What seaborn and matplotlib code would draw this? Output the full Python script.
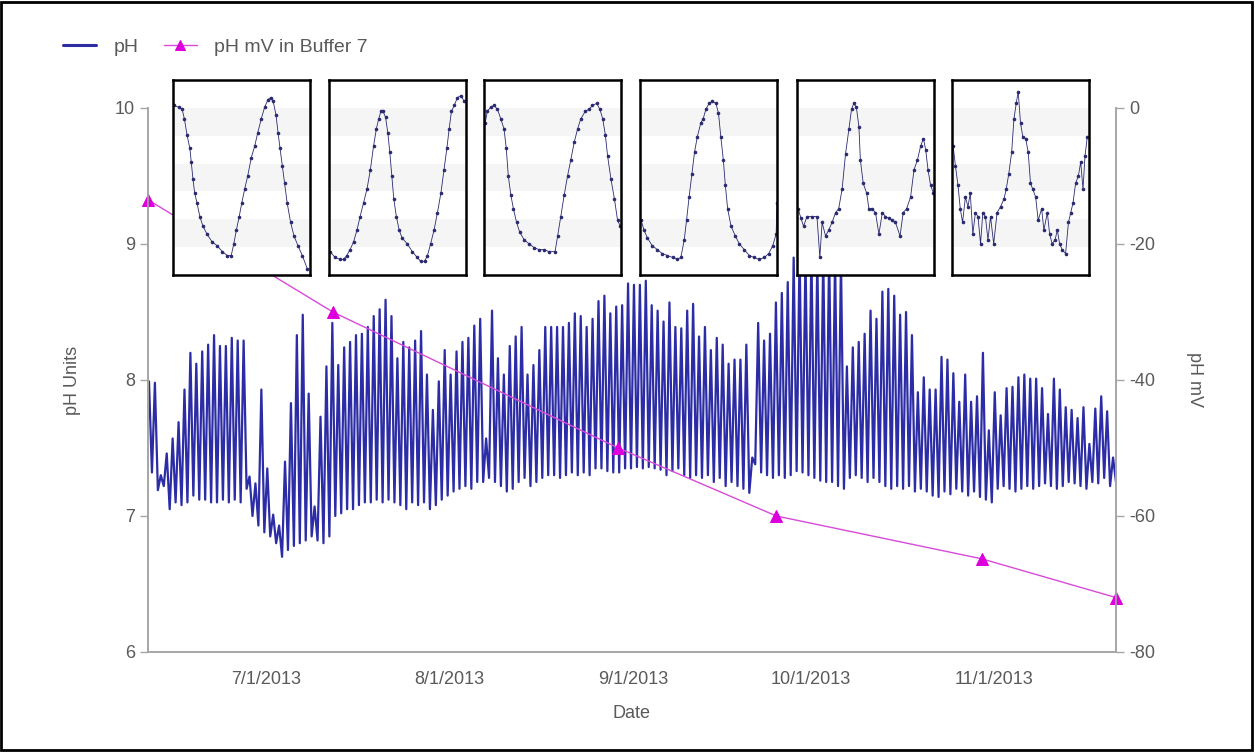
import pandas as pd
import matplotlib
matplotlib.use("Agg")
import matplotlib.pyplot as plt
import matplotlib.dates as mdates
import seaborn as sns
from matplotlib.patches import Rectangle

# -------------------------------
# Data
# -------------------------------
start_day = "2013-06-11"

# daily high / low pH, one value per day from 6/11/2013
ph_peak = [7.99, 7.98, 7.30, 7.46, 7.57, 7.69, 7.93, 8.20, 8.12, 8.21,
           8.26, 8.33, 8.25, 8.25, 8.31, 8.29, 8.29, 7.29, 7.24, 7.93,
           7.35, 7.01, 6.93, 7.40, 7.83, 8.33, 8.48, 7.90, 7.07, 7.73,
           8.10, 8.42, 8.11, 8.24, 8.28, 8.33, 8.34, 8.39, 8.47, 8.52,
           8.59, 8.47, 8.16, 8.28, 8.24, 8.29, 8.36, 8.04, 7.78, 7.99,
           8.22, 8.04, 8.21, 8.28, 8.31, 8.40, 8.45, 7.57, 8.51, 8.16,
           8.04, 8.25, 8.32, 8.39, 8.04, 8.11, 8.22, 8.39, 8.39, 8.39,
           8.39, 8.42, 8.49, 8.47, 8.39, 8.45, 8.58, 8.62, 8.49, 8.54,
           8.55, 8.71, 8.70, 8.70, 8.73, 8.55, 8.51, 8.43, 8.57, 8.39,
           8.38, 8.51, 8.56, 8.32, 8.39, 8.22, 8.31, 8.26, 8.12, 8.15,
           8.15, 8.26, 7.43, 8.42, 8.29, 8.34, 8.57, 8.64, 8.72, 8.90,
           8.95, 8.92, 8.95, 8.90, 8.93, 8.95, 8.90, 8.88, 8.10, 8.24,
           8.28, 8.34, 8.51, 8.45, 8.65, 8.67, 8.62, 8.48, 8.50, 8.33,
           7.91, 8.02, 7.93, 7.93, 8.17, 8.15, 8.05, 7.84, 8.04, 7.84,
           7.88, 8.20, 7.63, 7.91, 7.74, 7.94, 7.95, 8.02, 8.04, 8.01,
           8.01, 7.94, 7.75, 8.01, 7.93, 7.80, 7.78, 7.72, 7.80, 7.53,
           7.79, 7.88, 7.77, 7.43]
ph_trough = [7.32, 7.19, 7.22, 7.05, 7.10, 7.08, 7.10, 7.15, 7.12, 7.12,
             7.10, 7.10, 7.12, 7.10, 7.12, 7.10, 7.20, 7.00, 6.93, 6.88,
             6.85, 6.80, 6.70, 6.75, 6.78, 6.80, 6.82, 6.85, 6.82, 6.80,
             6.85, 7.00, 7.02, 7.05, 7.05, 7.08, 7.10, 7.10, 7.12, 7.10,
             7.12, 7.10, 7.08, 7.05, 7.10, 7.08, 7.10, 7.05, 7.08, 7.12,
             7.15, 7.18, 7.20, 7.22, 7.20, 7.25, 7.25, 7.28, 7.25, 7.22,
             7.18, 7.20, 7.25, 7.28, 7.22, 7.25, 7.28, 7.30, 7.30, 7.28,
             7.30, 7.32, 7.30, 7.32, 7.30, 7.35, 7.35, 7.33, 7.32, 7.32,
             7.35, 7.35, 7.36, 7.35, 7.36, 7.35, 7.34, 7.30, 7.33, 7.35,
             7.30, 7.28, 7.30, 7.28, 7.30, 7.25, 7.28, 7.22, 7.25, 7.22,
             7.20, 7.17, 7.38, 7.32, 7.30, 7.28, 7.30, 7.28, 7.30, 7.33,
             7.32, 7.30, 7.28, 7.26, 7.25, 7.25, 7.22, 7.20, 7.28, 7.30,
             7.28, 7.25, 7.28, 7.25, 7.22, 7.20, 7.22, 7.20, 7.22, 7.18,
             7.20, 7.18, 7.15, 7.14, 7.18, 7.16, 7.20, 7.18, 7.15, 7.18,
             7.14, 7.12, 7.10, 7.20, 7.22, 7.20, 7.18, 7.20, 7.22, 7.20,
             7.22, 7.24, 7.22, 7.20, 7.22, 7.25, 7.24, 7.22, 7.20, 7.25,
             7.24, 7.28, 7.22, 7.25]

mv_dates = ["2013-06-11 00:00", "2013-07-12 06:00", "2013-08-29 12:00",
            "2013-09-25 06:00", "2013-10-30 00:00", "2013-11-21 16:00"]
mv_values = [-13.5, -30, -50, -60, -66.3, -72]

tick_dates = ["2013-07-01", "2013-08-01", "2013-09-01", "2013-10-01", "2013-11-01"]

# zoomed two-day snapshots (hours, relative pH)
inset1_h = [0.2, 2.0, 3.2, 4.0, 4.9, 5.9, 6.4, 7.0, 7.6, 8.4, 9.4, 10.5, 11.9, 13.7, 15.5,
            17.3, 19.0, 20.4, 21.3, 22.2, 23.2, 24.1, 25.1, 26.2, 27.4, 28.6, 29.7, 30.9,
            32.1, 33.3, 34.2, 35.1, 36.1, 36.8, 37.5, 38.3, 39.1, 40.0, 41.2, 42.4, 43.8,
            45.3, 47.1]
inset1_v = [0.87, 0.86, 0.85, 0.80, 0.72, 0.65, 0.58, 0.49, 0.42, 0.37, 0.30, 0.25, 0.21,
            0.17, 0.15, 0.12, 0.10, 0.10, 0.16, 0.23, 0.30, 0.37, 0.44, 0.51, 0.60, 0.66,
            0.73, 0.80, 0.86, 0.90, 0.91, 0.89, 0.82, 0.73, 0.65, 0.56, 0.47, 0.37, 0.27,
            0.20, 0.15, 0.10, 0.03]
inset2_h = [0.4, 2.1, 3.9, 5.1, 6.2, 7.4, 8.6, 9.8, 10.9, 12.1, 13.3, 14.5, 15.6, 16.6,
            17.4, 18.2, 18.9, 19.8, 20.6, 21.3, 22.0, 22.7, 23.6, 24.6, 25.6, 27.4, 29.2,
            30.9, 32.1, 33.5, 34.5, 35.6, 36.8, 38.0, 39.2, 40.3, 41.3, 42.1, 42.9, 43.9,
            45.0, 46.2, 47.4]
inset2_v = [0.12, 0.09, 0.08, 0.08, 0.10, 0.13, 0.17, 0.23, 0.30, 0.37, 0.44, 0.54, 0.66,
            0.75, 0.80, 0.84, 0.84, 0.81, 0.73, 0.63, 0.51, 0.39, 0.30, 0.23, 0.19, 0.16,
            0.12, 0.09, 0.07, 0.07, 0.10, 0.16, 0.23, 0.32, 0.42, 0.54, 0.65, 0.75, 0.84,
            0.87, 0.91, 0.92, 0.89]
inset3_h = [0.4, 1.2, 2.3, 3.5, 4.7, 5.9, 7.0, 7.8, 8.5, 9.4, 10.3, 11.4, 12.5, 14.1, 15.8,
            17.6, 19.3, 21.1, 22.8, 24.9, 25.8, 26.9, 28.1, 29.3, 30.4, 31.6, 32.8, 33.9,
            35.5, 36.9, 38.0, 39.5, 40.6, 41.6, 42.5, 43.3, 44.5, 45.7, 46.8, 47.8]
inset3_v = [0.78, 0.84, 0.86, 0.87, 0.85, 0.80, 0.75, 0.65, 0.51, 0.41, 0.34, 0.27, 0.22,
            0.18, 0.16, 0.14, 0.13, 0.13, 0.12, 0.12, 0.20, 0.30, 0.41, 0.51, 0.59, 0.68,
            0.75, 0.80, 0.84, 0.85, 0.87, 0.88, 0.85, 0.80, 0.72, 0.61, 0.49, 0.39, 0.28,
            0.25]
inset4_h = [0.4, 1.4, 2.6, 4.3, 6.1, 7.8, 9.6, 11.4, 13.1, 14.3, 15.5, 16.3, 17.2, 18.2,
            19.1, 20.1, 21.3, 22.1, 23.1, 24.2, 25.4, 26.6, 27.5, 28.3, 29.2, 29.9, 30.7,
            31.9, 33.4, 34.8, 36.5, 38.3, 40.0, 41.8, 43.6, 45.1, 46.5, 47.7, 48.0]
inset4_v = [0.28, 0.23, 0.19, 0.15, 0.13, 0.11, 0.10, 0.09, 0.08, 0.09, 0.18, 0.28, 0.40,
            0.52, 0.63, 0.71, 0.78, 0.80, 0.85, 0.88, 0.89, 0.88, 0.83, 0.71, 0.59, 0.46,
            0.34, 0.25, 0.20, 0.16, 0.13, 0.10, 0.09, 0.08, 0.09, 0.11, 0.15, 0.21, 0.37]
inset5_h = [0.4, 1.4, 2.3, 3.5, 5.3, 7.0, 8.0, 8.8, 10.0, 11.1, 12.3, 13.5, 14.6, 15.8,
            17.0, 18.2, 19.1, 19.9, 20.8, 21.7, 22.2, 23.2, 24.4, 25.2, 26.3, 27.5, 28.7,
            29.9, 31.0, 32.2, 33.4, 34.5, 36.1, 37.2, 38.4, 39.8, 41.0, 42.2, 43.3, 44.3,
            45.1, 45.9, 46.8, 47.8]
inset5_v = [0.34, 0.29, 0.25, 0.30, 0.30, 0.30, 0.09, 0.27, 0.20, 0.23, 0.27, 0.32, 0.34,
            0.44, 0.62, 0.75, 0.85, 0.88, 0.86, 0.76, 0.59, 0.47, 0.42, 0.34, 0.34, 0.32,
            0.21, 0.32, 0.30, 0.29, 0.28, 0.27, 0.20, 0.32, 0.34, 0.40, 0.54, 0.59, 0.66,
            0.70, 0.64, 0.54, 0.46, 0.42]
inset6_h = [0.4, 1.2, 2.1, 2.9, 3.7, 4.7, 5.6, 6.4, 7.3, 8.2, 9.1, 10.0, 10.8, 11.7, 12.6,
            13.5, 14.6, 15.8, 17.0, 18.2, 19.0, 19.9, 20.9, 21.7, 22.5, 23.2, 24.0, 24.8,
            25.8, 26.7, 27.5, 28.3, 29.3, 30.2, 31.4, 32.2, 33.4, 34.2, 35.1, 36.1, 36.9,
            37.7, 38.6, 39.8, 40.8, 41.6, 42.4, 43.3, 44.3, 45.1, 45.9, 46.6, 47.4]
inset6_v = [0.66, 0.56, 0.46, 0.34, 0.27, 0.40, 0.35, 0.42, 0.21, 0.32, 0.30, 0.16, 0.32,
            0.30, 0.18, 0.30, 0.16, 0.32, 0.35, 0.39, 0.44, 0.52, 0.63, 0.80, 0.88, 0.94,
            0.78, 0.71, 0.70, 0.63, 0.47, 0.44, 0.40, 0.28, 0.34, 0.23, 0.32, 0.21, 0.16,
            0.18, 0.23, 0.16, 0.13, 0.11, 0.27, 0.32, 0.37, 0.47, 0.51, 0.58, 0.44, 0.61,
            0.71]

insets = [(inset1_h, inset1_v), (inset2_h, inset2_v), (inset3_h, inset3_v),
          (inset4_h, inset4_v), (inset5_h, inset5_v), (inset6_h, inset6_v)]

# -------------------------------
# Build the pH series (afternoon high, early-morning low)
# -------------------------------
days = pd.date_range(start_day, periods=len(ph_peak), freq="D")
times, values = [], []
for d, hi, lo in zip(days, ph_peak, ph_trough):
    times += [d + pd.Timedelta(hours=4), d + pd.Timedelta(hours=16)]
    values += [hi, lo]
ph_df = pd.DataFrame({"time": times, "pH": values})
mv_df = pd.DataFrame({"time": pd.to_datetime(mv_dates), "mV": mv_values})

# -------------------------------
# Styling
# -------------------------------
sns.set_style("white")
plt.rcParams["font.family"] = ["Liberation Sans", "DejaVu Sans"]
plt.rcParams["axes.unicode_minus"] = False
grey = "#5a5a5a"
spine_c = "#a6a6a6"
ph_color = "#2c2ca6"
mv_color = "#d84ad8"

W, H = 1255, 752
fig = plt.figure(figsize=(W / 100, H / 100), dpi=100)
ax = fig.add_axes([148 / W, 1 - 652 / H, (1116 - 148) / W, (652 - 108) / H])
ax2 = ax.twinx()

sns.lineplot(data=ph_df, x="time", y="pH", ax=ax, color=ph_color, lw=1.6,
             estimator=None, sort=False, label="pH")
sns.lineplot(data=mv_df, x="time", y="mV", ax=ax2, color=mv_color, lw=1.0,
             marker="^", markersize=9, markeredgecolor="#dd00dd",
             markerfacecolor="#dd00dd", label="pH mV in Buffer 7", clip_on=False)

ax.set_xlim(pd.Timestamp("2013-06-11 00:00"), pd.Timestamp("2013-11-21 16:00"))
ax.set_ylim(6, 10)
ax2.set_ylim(-80, 0)
ax.set_yticks([6, 7, 8, 9, 10])
ax2.set_yticks([-80, -60, -40, -20, 0])
ax.set_xticks(pd.to_datetime(tick_dates))
ax.xaxis.set_major_formatter(
    plt.FuncFormatter(lambda x, _: (lambda d: f"{d.month}/{d.day}/{d.year}")(mdates.num2date(x))))

for a in (ax, ax2):
    a.spines["top"].set_visible(False)
    for side in ("left", "right", "bottom"):
        a.spines[side].set_color(spine_c)
        a.spines[side].set_linewidth(1.2)
    a.tick_params(colors=grey, labelsize=13, length=6, width=1, color=spine_c)
ax.tick_params(axis="x", pad=8)

ax.set_xlabel("Date", fontsize=13, color=grey, labelpad=12)
ax.set_ylabel("pH Units", fontsize=13, color=grey, labelpad=24)
ax2.set_ylabel("pH mV", fontsize=13, color=grey, rotation=270, labelpad=34)

# legend in the upper-left corner of the figure
h1, l1 = ax.get_legend_handles_labels()
h2, l2 = ax2.get_legend_handles_labels()
ax.get_legend().remove()
ax2.get_legend().remove()
leg = fig.legend(h1 + h2, l1 + l2, loc="center left", bbox_to_anchor=(55 / W, 1 - 47 / H),
                 ncol=2, frameon=False, fontsize=14, handlelength=1.7,
                 columnspacing=1.3, borderaxespad=0, handletextpad=0.9)
for t in leg.get_texts():
    t.set_color(grey)
leg.legend_handles[0].set_linewidth(2.2)
leg.legend_handles[1].set_markersize(7)

# -------------------------------
# Two-day zoom insets
# -------------------------------
inset_left = [173, 329, 484, 640, 797, 952]
for left, (hrs, vals) in zip(inset_left, insets):
    iax = fig.add_axes([left / W, 1 - 275 / H, 137 / W, 195 / H])
    iax.set_facecolor("white")
    for k in range(7):
        if k % 2 == 1:
            iax.axhspan(1 - (k + 1) / 7, 1 - k / 7, color="#f5f5f5", lw=0, zorder=0)
    sns.lineplot(x=hrs, y=vals, ax=iax, color="#2a2a70", lw=0.6, marker="o",
                 markersize=2.6, markeredgewidth=0, estimator=None, sort=False)
    iax.set_xlim(0, 48)
    iax.set_ylim(0, 1)
    iax.set_xticks([])
    iax.set_yticks([])
    for s in iax.spines.values():
        s.set_visible(True)
        s.set_color("black")
        s.set_linewidth(1.8)

# black frame around the whole picture
fig.add_artist(Rectangle((0.001, 0.002), 0.997, 0.996, transform=fig.transFigure,
                         fill=False, edgecolor="black", lw=2))

fig.savefig("out.png", dpi=100, facecolor="white")
